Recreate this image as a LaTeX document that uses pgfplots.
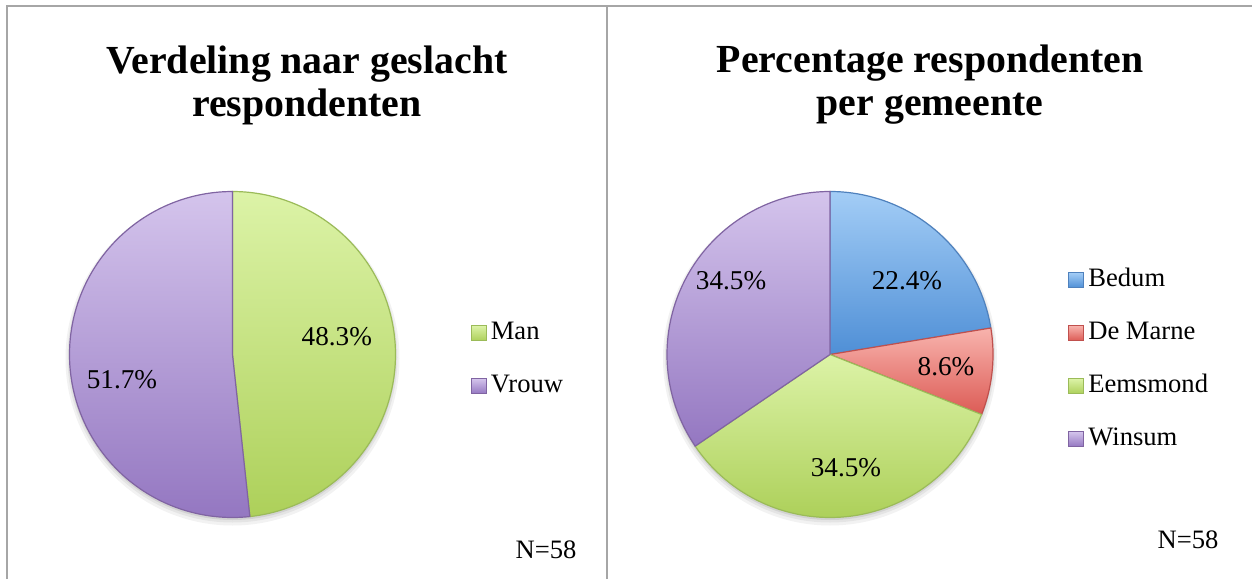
\documentclass[border=0pt]{standalone}
\usepackage{fontspec}
\setmainfont{Liberation Serif}
\usepackage{pgfplots}
\usepackage{pgfplotstable}
\pgfplotsset{compat=1.18}

\definecolor{grD}{HTML}{9BBB59}\definecolor{grT}{HTML}{DCF3A7}\definecolor{grB}{HTML}{ADD05A}
\definecolor{puD}{HTML}{8064A2}\definecolor{puT}{HTML}{D4C4EC}\definecolor{puB}{HTML}{9477C1}
\definecolor{blD}{HTML}{4F81BD}\definecolor{blT}{HTML}{A3CDF6}\definecolor{blB}{HTML}{4F8FD6}
\definecolor{reD}{HTML}{C0504D}\definecolor{reT}{HTML}{F8B3AD}\definecolor{reB}{HTML}{DC5B55}
\definecolor{frame}{HTML}{A6A6A6}

\pgfplotstableread[col sep=comma]{
name,value
Man,48.3
Vrouw,51.7
}\genderdata
\pgfplotstableread[col sep=comma]{
name,value
Bedum,22.4
De Marne,8.6
Eemsmond,34.5
Winsum,34.5
}\gemeentedata

\newcommand\lblfont{\fontsize{13.6}{16}\selectfont}
\newcommand\legfont{\fontsize{13.3}{16}\selectfont}
\pgfplotsset{
  piestyle/.style={hide axis, clip=false, anchor=center, x=81.5pt, y=81.5pt,
    xmin=-1.05, xmax=1.05, ymin=-1.05, ymax=1.05,
    /pgf/number format/assume math mode=true,
    legend cell align=left,
    legend style={draw=none, fill=none, anchor=west, at={(1.177,0.485)},
      font=\legfont, row sep=10.5pt,
      nodes={inner sep=2pt, text height=9pt, text depth=3pt}},
    legend image code/.code={\draw[##1, line width=0.6pt] (0pt,-3.75pt) rectangle (7.5pt,3.75pt);}},
  sector/.style={data cs=polar, samples=120, line width=0.6pt, forget plot},
}
\newcommand\pct[1]{\pgfmathprintnumber[fixed,precision=1,fixed zerofill]{#1}\%}

\begin{document}%
\pgfplotstablegetelem{0}{value}\of\genderdata\edef\vMan{\pgfplotsretval}%
\pgfplotstablegetelem{1}{value}\of\genderdata\edef\vVrouw{\pgfplotsretval}%
\pgfplotstablegetelem{0}{value}\of\gemeentedata\edef\vBed{\pgfplotsretval}%
\pgfplotstablegetelem{1}{value}\of\gemeentedata\edef\vDM{\pgfplotsretval}%
\pgfplotstablegetelem{2}{value}\of\gemeentedata\edef\vEems{\pgfplotsretval}%
\pgfplotstablegetelem{3}{value}\of\gemeentedata\edef\vWins{\pgfplotsretval}%
\pgfmathsetmacro\aMan{90-3.6*\vMan}%
\pgfmathsetmacro\aVrouw{\aMan-3.6*\vVrouw}%
\pgfmathsetmacro\aBed{90-3.6*\vBed}%
\pgfmathsetmacro\aDM{\aBed-3.6*\vDM}%
\pgfmathsetmacro\aEems{\aDM-3.6*\vEems}%
\pgfmathsetmacro\aWins{\aEems-3.6*\vWins}%
\begin{tikzpicture}[x=0.5pt,y=0.5pt]
\draw[frame, line width=1pt] (6.5,0) -- (6.5,572.5) -- (1252,572.5);
\draw[frame, line width=1pt] (606.5,0) -- (606.5,572.5);
% soft shadows
\foreach \cx in {232.5,830}{
  \fill[black, opacity=0.05] (\cx,220.5) circle[radius=167];
  \fill[black, opacity=0.06] (\cx,221.5) circle[radius=165];
  \fill[black, opacity=0.08] (\cx,222.5) circle[radius=163.5];
}
\node[font=\fontsize{19.9}{21.5}\selectfont\bfseries, align=center] at (307,494) {Verdeling naar geslacht\\respondenten};
\node[font=\fontsize{19.9}{21.5}\selectfont\bfseries, align=center] at (930,494) {Percentage respondenten\\per gemeente};
\node[font=\legfont] at (546,29) {N=58};
\node[font=\legfont] at (1188,39) {N=58};

\begin{axis}[piestyle, at={(116.25pt,112.25pt)}]
\addplot[sector, domain=\aMan:90, draw=grD, top color=grT, bottom color=grB] ({x},{1}) -- (axis cs:0,0) -- cycle;
\addplot[sector, domain=\aVrouw:\aMan, draw=puD, top color=puT, bottom color=puB] ({x},{1}) -- (axis cs:0,0) -- cycle;
\addlegendimage{draw=grD, top color=grT, bottom color=grB}
\addlegendentry{Man}
\addlegendimage{draw=puD, top color=puT, bottom color=puB}
\addlegendentry{Vrouw}
\node[font=\lblfont] at (axis cs:0.64,0.107) {\pct{\vMan}};
\node[font=\lblfont] at (axis cs:-0.678,-0.156) {\pct{\vVrouw}};
\end{axis}

\begin{axis}[piestyle, at={(415pt,112.25pt)}]
\addplot[sector, domain=\aBed:90, draw=blD, top color=blT, bottom color=blB] ({x},{1}) -- (axis cs:0,0) -- cycle;
\addplot[sector, domain=\aDM:\aBed, draw=reD, top color=reT, bottom color=reB] ({x},{1}) -- (axis cs:0,0) -- cycle;
\addplot[sector, domain=\aEems:\aDM, draw=grD, top color=grT, bottom color=grB] ({x},{1}) -- (axis cs:0,0) -- cycle;
\addplot[sector, domain=\aWins:\aEems, draw=puD, top color=puT, bottom color=puB] ({x},{1}) -- (axis cs:0,0) -- cycle;
\addlegendimage{draw=blD, top color=blT, bottom color=blB}
\addlegendentry{Bedum}
\addlegendimage{draw=reD, top color=reT, bottom color=reB}
\addlegendentry{De Marne}
\addlegendimage{draw=grD, top color=grT, bottom color=grB}
\addlegendentry{Eemsmond}
\addlegendimage{draw=puD, top color=puT, bottom color=puB}
\addlegendentry{Winsum}
\node[font=\lblfont] at (axis cs:0.472,0.451) {\pct{\vBed}};
\node[font=\lblfont] at (axis cs:0.712,-0.077) {\pct{\vDM}};
\node[font=\lblfont] at (axis cs:0.098,-0.696) {\pct{\vEems}};
\node[font=\lblfont] at (axis cs:-0.607,0.451) {\pct{\vWins}};
\end{axis}
\pgfresetboundingbox
\useasboundingbox (0,0) rectangle (1252,579);
\end{tikzpicture}%
\end{document}
